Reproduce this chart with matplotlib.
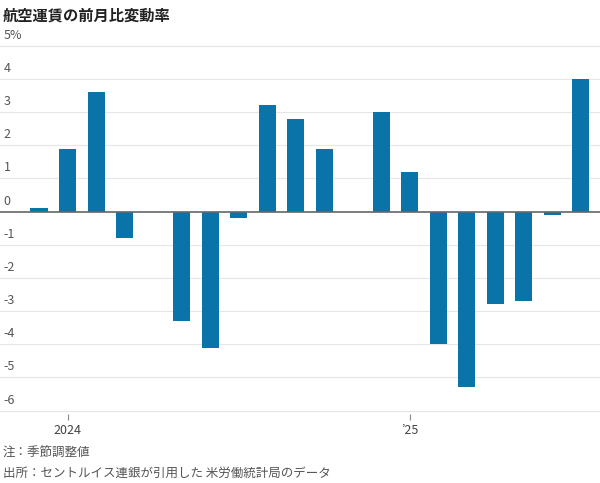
import matplotlib
matplotlib.use("Agg")
import matplotlib.pyplot as plt

plt.rcParams["font.family"] = ["Noto Sans CJK JP"]

months = ["2023-12","2024-01","2024-02","2024-03","2024-04","2024-05","2024-06","2024-07","2024-08","2024-09",
          "2024-10","2024-11","2024-12","2025-01","2025-02","2025-03","2025-04","2025-05","2025-06","2025-07"]
values = [0.1,1.9,3.6,-0.8,0.0,-3.3,-4.1,-0.2,3.2,2.8,1.9,0.0,3.0,1.2,-4.0,-5.3,-2.8,-2.7,-0.1,4.0]
yticks = [5,4,3,2,1,0,-1,-2,-3,-4,-5,-6]
ylabels = ["5%","4","3","2","1","0","-1","-2","-3","-4","-5","-6"]
xtick_pos = [1,13]
xtick_labels = ["2024","’25"]

fig = plt.figure(figsize=(6,4.83), dpi=100)
ax = fig.add_axes([0, 0.143, 1, 0.783])
x = list(range(len(values)))
ax.bar(x, values, width=0.6, color="#0a74a8", zorder=3)
ax.set_xlim(-1.37, 19.68)
ax.set_ylim(-6.1, 5.3)
for t in yticks:
    if t == 0:
        ax.axhline(0, color="#666666", lw=1.2, zorder=4)
    else:
        ax.axhline(t, color="#e6e6e6", lw=0.8, zorder=1)
for t, l in zip(yticks, ylabels):
    ax.text(0.006, t + 0.12, l, transform=ax.get_yaxis_transform(), ha="left", va="bottom",
            fontsize=9, color="#555555")
ax.set_yticks([])
ax.set_xticks(xtick_pos)
ax.set_xticklabels(xtick_labels, fontsize=9, color="#444444")
ax.tick_params(axis="x", length=4, color="#888888", pad=3)
for s in ax.spines.values():
    s.set_visible(False)

fig.text(0.005, 0.985, "航空運賃の前月比変動率", fontsize=11, fontweight="bold", va="top", ha="left", color="#222222")
fig.text(0.005, 0.062, "注：季節調整値", fontsize=9, color="#555555", va="center")
fig.text(0.005, 0.02, "出所：セントルイス連銀が引用した 米労働統計局のデータ", fontsize=9, color="#555555", va="center")
fig.savefig("out.png", dpi=100)
